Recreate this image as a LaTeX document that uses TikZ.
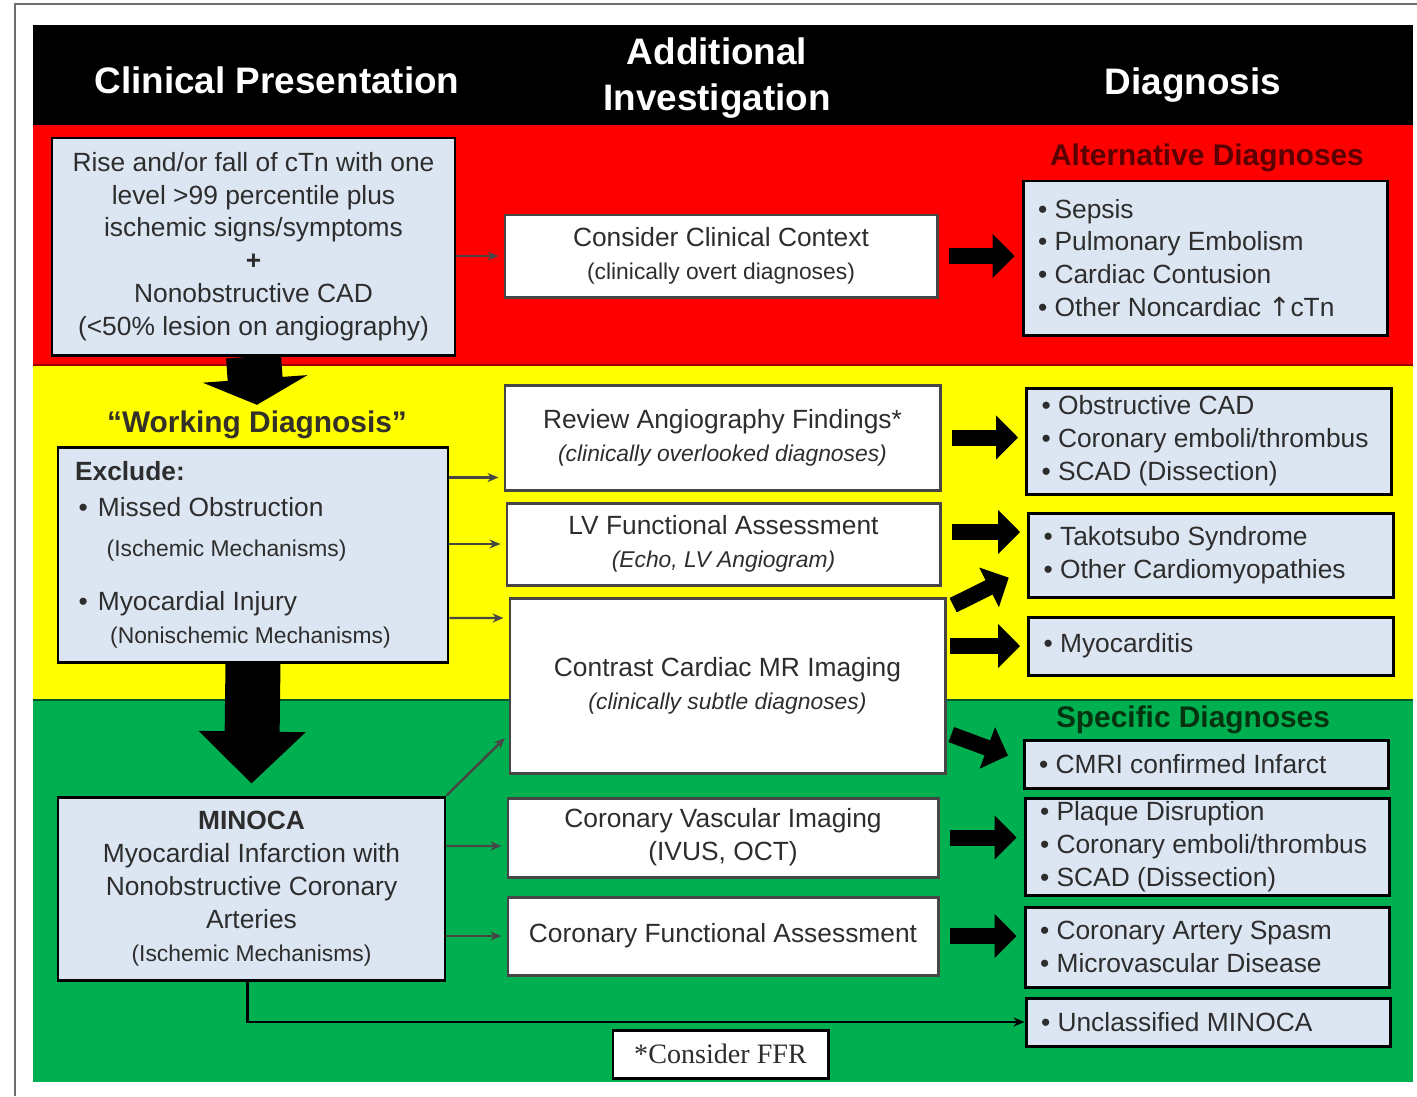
\documentclass[tikz,border=0pt]{standalone}
\usepackage{fontspec}
\setmainfont{Liberation Sans}
\newfontfamily\serifface{Liberation Serif}
\newfontfamily\symface{DejaVu Sans}
\usetikzlibrary{arrows.meta,calc}
\definecolor{bandred}{RGB}{255, 0, 0}
\definecolor{bandyellow}{RGB}{255, 255, 0}
\definecolor{bandgreen}{RGB}{0, 176, 80}
\definecolor{paleblue}{RGB}{220, 230, 242}
\definecolor{inkgrey}{RGB}{45, 45, 45}
\definecolor{edgegrey}{RGB}{70, 70, 70}
\definecolor{darkred}{RGB}{90, 0, 0}
\definecolor{darkgreen}{RGB}{5, 50, 15}
\definecolor{framegrey}{RGB}{110, 110, 110}

% one pixel of the layout grid
\newcommand\pxu{0.02cm}
\newcommand\bxfont{\fontsize{15}{18.7}\selectfont}
\newcommand\sbfont{\fontsize{13}{16}\selectfont}

\tikzset{
    boxsize/.style 2 args={minimum width=#1*\pxu, minimum height=#2*\pxu},
    bluebox/.style={draw=black, line width=1.7pt, fill=paleblue, text=inkgrey,
                    align=center, inner sep=0pt, font=\bxfont,
                    execute at begin node={\spaceskip=0pt\xspaceskip=0pt\relax}},
    whitebox/.style={draw=edgegrey, line width=1.7pt, fill=white, text=inkgrey,
                     align=center, inner sep=0pt, font=\bxfont},
    listbox/.style={bluebox, align=left, inner xsep=0.3cm, text width=6.7cm},
    ffrbox/.style={draw=black, line width=1.7pt, fill=white, text=inkgrey,
                   inner sep=0pt, font=\serifface\fontsize{16}{19}\selectfont},
    headtext/.style={text=white, align=center, font=\fontsize{21}{26}\selectfont\bfseries},
    titletext/.style={font=\fontsize{17}{20}\selectfont\bfseries},
    bigarrow/.style={draw=black, line width=0.32cm, -{Triangle[length=0.44cm, width=0.86cm]},
                     shorten <=0.2cm, shorten >=0.14cm},
    downarrow/.style={draw=black, line width=1.1cm, -{Triangle[length=#1, width=2.08cm]}},
    thinarrow/.style={draw=edgegrey, line width=1.4pt, -{Stealth[length=0.22cm, width=0.18cm]},
                      shorten >=0.1cm},
    unclassline/.style={draw=black, line width=1.6pt, -{Stealth[length=0.22cm, width=0.18cm]}}
}

\begin{document}
\begin{tikzpicture}[x=\pxu, y=-\pxu]

        % page, frame and the three coloured bands
        \useasboundingbox (0,0) rectangle (1417,1096);
        \fill[white] (0,0) rectangle (1417,1096);
        \draw[framegrey, line width=0.8pt] (15,1096) -- (15,4) -- (1417,4);
        \fill[black] (33,25) rectangle (1413,125);
        \fill[bandred] (33,125) rectangle (1413,365);
        \fill[bandyellow] (33,365) rectangle (1413,700);
        \fill[bandgreen] (33,700) rectangle (1413,1082);
        \draw[bandred!60!black, line width=0.6pt] (33,365) -- (1413,365);
        \draw[bandgreen!50!black, line width=1pt] (33,700) -- (1413,700);

        % column headings
        \node[headtext] (headcp) at (277,80) {Clinical Presentation};
        \node[headtext] (headai) at (717,78) {Additional\\Investigation};
        \node[headtext] (headdx) at (1193,85) {Diagnosis};

        % red band
        \node[bluebox, boxsize={403}{217}] (rise) at (253.5,246.5)
            {Rise and/or fall of cTn with one\\level >99 percentile plus\\ischemic signs/symptoms\\
             {\bfseries +}\\Nonobstructive CAD\\(<50\% lesion on angiography)};
        \node[whitebox, boxsize={432}{82}] (context) at (721,256)
            {Consider Clinical Context\\{\sbfont (clinically overt diagnoses)}};
        \node[titletext, text=darkred] (alttitle) at (1207,158) {Alternative Diagnoses};
        \node[listbox, minimum height=154*\pxu] (alt) at (1205.5,258)
            {• Sepsis\\• Pulmonary Embolism\\• Cardiac Contusion\\
             • Other Noncardiac {\symface ↑}cTn};

        % yellow band
        \node[titletext, text=black!85!olive] (workdx) at (257,425) {``Working Diagnosis''};
        \node[bluebox, align=left, inner xsep=0.34cm, text width=7.12cm, boxsize={390}{215}]
            (exclude) at (253,554.5)
            {{\bfseries Exclude:}\\[2pt]
             \hspace*{2pt}\makebox[11pt][l]{•}Missed Obstruction\\[4pt]
             \hspace*{18pt}{\sbfont (Ischemic Mechanisms)}\\[12pt]
             \hspace*{2pt}\makebox[11pt][l]{•}Myocardial Injury\\
             \hspace*{20pt}{\sbfont (Nonischemic Mechanisms)}};
        \node[whitebox, boxsize={435}{105}] (review) at (722.5,437.5)
            {Review Angiography Findings*\\{\sbfont\itshape (clinically overlooked diagnoses)}};
        \node[whitebox, boxsize={433}{82}] (lv) at (723.5,544)
            {LV Functional Assessment\\{\sbfont\itshape (Echo, LV Angiogram)}};
        \node[whitebox, boxsize={435}{175}] (cmr) at (727.5,685.5)
            {Contrast Cardiac MR Imaging\\{\sbfont\itshape (clinically subtle diagnoses)}};
        \node[listbox, minimum height=106*\pxu] (obs) at (1209,441)
            {• Obstructive CAD\\• Coronary emboli/thrombus\\• SCAD (Dissection)};
        \node[listbox, minimum height=84*\pxu] (tako) at (1211,555)
            {• Takotsubo Syndrome\\• Other Cardiomyopathies};
        \node[listbox, minimum height=58*\pxu] (myo) at (1211,646) {• Myocarditis};

        % green band
        \node[bluebox, boxsize={387}{183}] (minoca) at (251.5,888.5)
            {{\bfseries MINOCA}\\Myocardial Infarction with\\Nonobstructive Coronary\\Arteries\\
             {\sbfont (Ischemic Mechanisms)}};
        \node[whitebox, boxsize={430}{79}] (cvi) at (723,837.5)
            {Coronary Vascular Imaging\\(IVUS, OCT)};
        \node[whitebox, boxsize={430}{78}] (cfa) at (723,936) {Coronary Functional Assessment};
        \node[titletext, text=darkgreen] (spectitle) at (1193,720) {Specific Diagnoses};
        \node[listbox, minimum height=48*\pxu] (cmri) at (1206.5,764) {• CMRI confirmed Infarct};
        \node[listbox, minimum height=97*\pxu] (plaque) at (1207.5,846.5)
            {• Plaque Disruption\\• Coronary emboli/thrombus\\• SCAD (Dissection)};
        \node[listbox, minimum height=80*\pxu] (spasm) at (1207.5,947)
            {• Coronary Artery Spasm\\• Microvascular Disease};
        \node[listbox, minimum height=48*\pxu] (unclass) at (1208.5,1022) {• Unclassified MINOCA};
        \node[ffrbox, boxsize={215}{48}] (ffr) at (720.5,1054) {*Consider FFR};

        % big arrows down the first column
        \draw[downarrow=0.52cm] (rise.south) -- (workdx.north);
        \draw[downarrow=1.04cm] (exclude.south) -- ($(minoca.north)+(0,-12)$);

        % big arrows into the diagnosis column
        \foreach \src / \dst in {context/alt, review/obs, cvi/plaque, cfa/spasm} {
            \draw[bigarrow] (\src.east) -- (\src.east -| \dst.west);
        }
        \draw[bigarrow] ($(lv.east)+(0,-12)$) -- ($(tako.west)+(0,-23)$);
        \draw[bigarrow, shorten <=0.06cm] ($(cmr.north east)+(4,10)$) -- ($(tako.south west)+(-12,-24)$);
        \draw[bigarrow, shorten <=0.06cm] (cmr.east |- myo.west) -- (myo.west);
        \draw[bigarrow, shorten <=0.06cm] ($(cmr.east)+(2,48)$) -- ($(cmri.west)+(-8,-6)$);

        % thin arrows into the investigation column
        \draw[thinarrow] (context.west -| rise.east) -- (context.west);
        \draw[thinarrow] ($(exclude.east)+(0,-77)$) -- ($(review.west)+(0,40)$);
        \draw[thinarrow] (lv.west -| exclude.east) -- (lv.west);
        \draw[thinarrow] ($(exclude.east)+(0,63.5)$) -- ($(cmr.west)+(0,-67.5)$);
        \draw[thinarrow] (minoca.north east) -- ($(cmr.south west)+(0,-40)$);
        \draw[thinarrow] ($(minoca.east)+(0,-42.5)$) -- ($(cvi.west)+(0,8.5)$);
        \draw[thinarrow] (cfa.west -| minoca.east) -- (cfa.west);

        % no investigation left: unclassified
        \draw[unclassline] ($(minoca.south)+(-4,0)$) |- (unclass.west);

\end{tikzpicture}
\end{document}
